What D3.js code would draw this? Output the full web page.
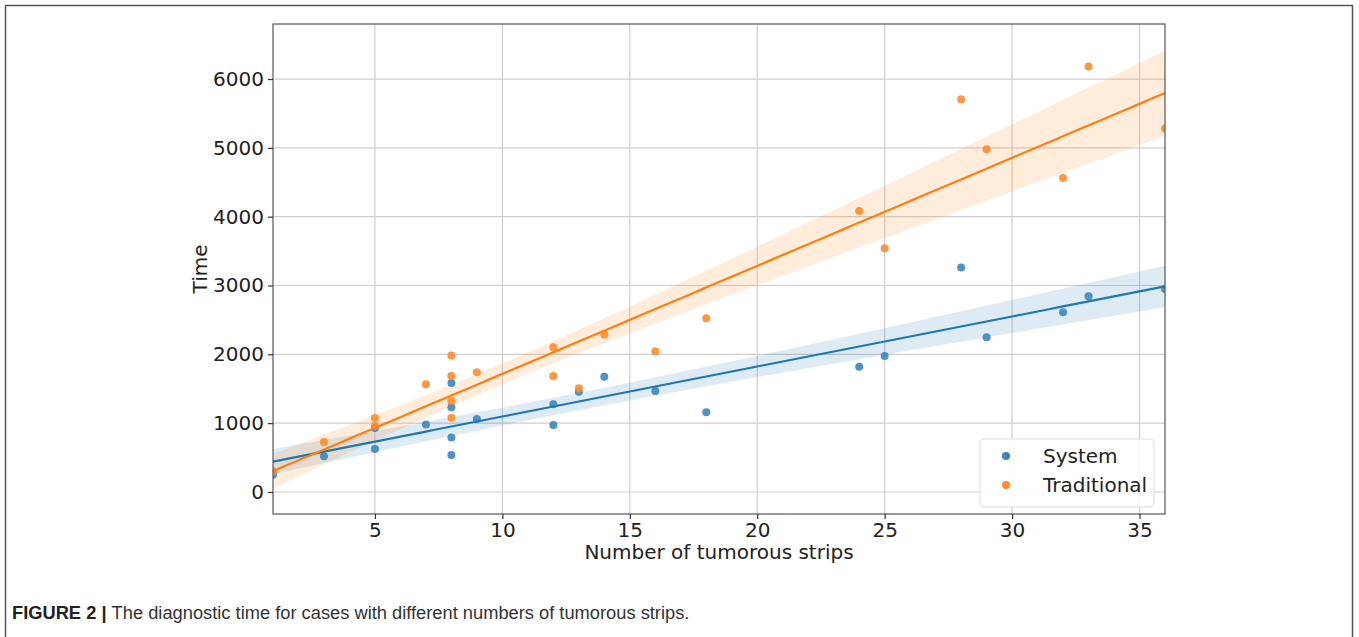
<!DOCTYPE html>
<html><head><meta charset="utf-8">
<script src="https://cdn.jsdelivr.net/npm/d3@7"></script>
<style>
html,body{margin:0;padding:0;background:#fff;}
svg{display:block;}
</style></head>
<body>
<svg id="chart" width="1359" height="637"></svg>
<script>
const seriesNames = ["System", "Traditional"];
const systemX = [1, 3, 5, 5, 7, 8, 8, 8, 8, 9, 12, 12, 13, 14, 16, 18, 24, 25, 28, 29, 32, 33, 36];
const systemY = [250, 520, 625, 930, 980, 1585, 1230, 790, 538, 1060, 1275, 975, 1458, 1676, 1468, 1158, 1821, 1977, 3260, 2248, 2610, 2845, 2950];
const tradX = [1, 3, 5, 5, 7, 8, 8, 8, 8, 9, 12, 12, 13, 14, 16, 18, 24, 25, 28, 29, 32, 33, 36];
const tradY = [300, 727, 960, 1075, 1565, 1982, 1686, 1323, 1080, 1740, 2103, 1686, 1507, 2287, 2045, 2524, 4084, 3542, 5707, 4981, 4564, 6182, 5280];
const xTicks = [5, 10, 15, 20, 25, 30, 35];
const yTicks = [0, 1000, 2000, 3000, 4000, 5000, 6000];
const colors = ["#1f77b4", "#ff7f0e"];
const pointColors = ["#3a87bf", "#ff8c2a"];

const svg = d3.select("#chart");
// outer frame
svg.append("path").attr("d","M5.5,637 L5.5,5.5 L1352.5,5.5 L1352.5,637")
  .attr("fill","none").attr("stroke","#555").attr("stroke-width",1.5);

const m = {left:273, top:24, right:1165, bottom:514};
const x = d3.scaleLinear().domain([1,36]).range([m.left, m.right]);
const y = d3.scaleLinear().domain([-320, 6800]).range([m.bottom, m.top]);

const defs = svg.append("defs");
defs.append("clipPath").attr("id","clip").append("rect")
  .attr("x",m.left).attr("y",m.top).attr("width",m.right-m.left).attr("height",m.bottom-m.top);

// grid
const g = svg.append("g");
g.selectAll(".gx").data(xTicks).join("line")
  .attr("x1",d=>x(d)).attr("x2",d=>x(d)).attr("y1",m.top).attr("y2",m.bottom)
  .attr("stroke","#cfcfcf").attr("stroke-width",1.2);
g.selectAll(".gy").data(yTicks).join("line")
  .attr("y1",d=>y(d)).attr("y2",d=>y(d)).attr("x1",m.left).attr("x2",m.right)
  .attr("stroke","#cfcfcf").attr("stroke-width",1.2);

// regression with heteroscedasticity-robust CI (approximates bootstrap band)
function fit(xs, ys){
  const n = xs.length;
  const mx = d3.mean(xs), my = d3.mean(ys);
  let sxx=0, sxy=0;
  for(let i=0;i<n;i++){ sxx += (xs[i]-mx)**2; sxy += (xs[i]-mx)*(ys[i]-my); }
  const b = sxy/sxx, a = my - b*mx;
  let s0=0, s1=0, s2=0;
  for(let i=0;i<n;i++){
    const e2 = (ys[i]-(a+b*xs[i]))**2, xc = xs[i]-mx;
    s0 += e2; s1 += e2*xc; s2 += e2*xc*xc;
  }
  const corr = n/(n-2);
  const z = 1.96;
  const grid = d3.range(0,101).map(i=>1+35*i/100);
  return grid.map(xv=>{
    const yh = a+b*xv, d = xv-mx;
    const v = corr*(s0/(n*n) + 2*d*s1/(n*sxx) + d*d*s2/(sxx*sxx));
    const se = Math.sqrt(v);
    return {x:xv, y:yh, lo:yh-z*se, hi:yh+z*se};
  });
}
const datasets = [[systemX, systemY],[tradX, tradY]];
const plot = svg.append("g").attr("clip-path","url(#clip)");
datasets.forEach((ds,i)=>{
  const f = fit(ds[0], ds[1]);
  plot.append("path").datum(f)
    .attr("d", d3.area().x(d=>x(d.x)).y0(d=>y(d.lo)).y1(d=>y(d.hi)))
    .attr("fill", colors[i]).attr("fill-opacity",0.15);
});
datasets.forEach((ds,i)=>{
  const pts = ds[0].map((v,j)=>[v, ds[1][j]]);
  plot.selectAll(".p"+i).data(pts).join("circle")
    .attr("cx",d=>x(d[0])).attr("cy",d=>y(d[1])).attr("r",4)
    .attr("fill", pointColors[i]).attr("fill-opacity",0.9);
});
datasets.forEach((ds,i)=>{
  const f = fit(ds[0], ds[1]);
  plot.append("path").datum(f)
    .attr("d", d3.line().x(d=>x(d.x)).y(d=>y(d.y)))
    .attr("fill","none").attr("stroke", colors[i]).attr("stroke-width",2.2);
});

// frame
svg.append("rect").attr("x",m.left).attr("y",m.top).attr("width",m.right-m.left).attr("height",m.bottom-m.top)
  .attr("fill","none").attr("stroke","#555").attr("stroke-width",1.2);

// axes
const xa = svg.append("g").attr("transform",`translate(0,${m.bottom})`)
  .call(d3.axisBottom(x).tickValues(xTicks).tickFormat(d3.format("d")).tickSize(5).tickPadding(4));
const ya = svg.append("g").attr("transform",`translate(${m.left},0)`)
  .call(d3.axisLeft(y).tickValues(yTicks).tickFormat(d3.format("d")).tickSize(5).tickPadding(4));
[xa,ya].forEach(a=>{
  a.select(".domain").remove();
  a.selectAll("line").attr("stroke","#333").attr("stroke-width",1.2);
  a.selectAll("text").attr("font-family","DejaVu Sans").attr("font-size",20).attr("fill","#222");
});
svg.append("text").attr("x",(m.left+m.right)/2).attr("y",559).attr("text-anchor","middle")
  .attr("font-family","DejaVu Sans").attr("font-size",20).attr("fill","#222").text("Number of tumorous strips");
svg.append("text").attr("transform",`translate(207,${(m.top+m.bottom)/2}) rotate(-90)`).attr("text-anchor","middle")
  .attr("font-family","DejaVu Sans").attr("font-size",20).attr("fill","#222").text("Time");

// legend
const lg = svg.append("g").attr("transform","translate(980,439)");
lg.append("rect").attr("width",174).attr("height",68).attr("rx",4)
  .attr("fill","#fff").attr("fill-opacity",0.85).attr("stroke","#ddd").attr("stroke-width",1);
seriesNames.forEach((n,i)=>{
  lg.append("circle").attr("cx",26).attr("cy",17+i*29).attr("r",4).attr("fill",pointColors[i]);
  lg.append("text").attr("x",63).attr("y",24+i*29).attr("font-family","DejaVu Sans").attr("font-size",20)
    .attr("fill","#222").text(n);
});

// caption
const cap = svg.append("text").attr("x",12).attr("y",619).attr("font-family","Liberation Sans, Arial").attr("font-size",18.3).attr("fill","#333");
cap.append("tspan").attr("font-weight","bold").attr("fill","#222").text("FIGURE 2 | ");
cap.append("tspan").text(" The diagnostic time for cases with different numbers of tumorous strips.");
</script>
</body></html>
